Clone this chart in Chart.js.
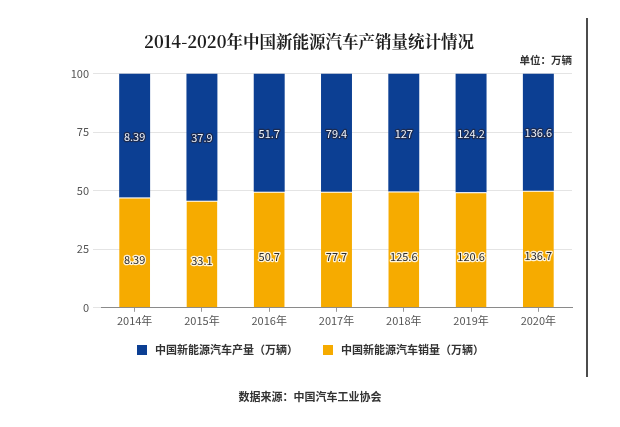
<!DOCTYPE html>
<html>
<head>
<meta charset="utf-8">
<script src="https://cdn.jsdelivr.net/npm/chart.js@4.4.1/dist/chart.umd.min.js"></script>
<style>
    html, body { margin: 0; padding: 0; background: #fff; }
    #wrap { width: 620px; height: 427px; position: relative; }
</style>
</head>
<body>
<div id="wrap"><canvas id="chart"></canvas></div>
<script>
// 年份
const years = ['2014年', '2015年', '2016年', '2017年', '2018年', '2019年', '2020年'];
// 产量、销量（万辆），用作柱上标签
const productionValues = ['8.39', '37.9', '51.7', '79.4', '127', '124.2', '136.6'];
const salesValues = ['8.39', '33.1', '50.7', '77.7', '125.6', '120.6', '136.7'];
// 柱高（百分比，从图上读取）
const productionShare = [52.9, 54.3, 50.5, 50.5, 50.3, 50.7, 50.0];
const salesShare = [47.1, 45.7, 49.5, 49.5, 49.7, 49.3, 50.0];
// 纵轴刻度
const yTicks = [0, 25, 50, 75, 100];

const BLUE = '#0c3f93';
const YELLOW = '#f6ab00';
const CJK = '"Noto Sans CJK SC", "Noto Sans", sans-serif';

/**
 * 标题、柱内数值标签、图例、数据来源、右侧竖线
 */
const decorPlugin = {
    id: 'decor',
    afterDatasetsDraw(chart) {
        const ctx = chart.ctx;
        ctx.save();
        ctx.font = '11px ' + CJK;
        ctx.textAlign = 'center';
        ctx.textBaseline = 'middle';
        ctx.lineJoin = 'round';
        chart.data.datasets.forEach(function(ds, di) {
            const meta = chart.getDatasetMeta(di);
            meta.data.forEach(function(bar, i) {
                const mid = (bar.y + bar.base) / 2;
                const text = ds.valueLabels[i];
                if (ds.isProduction) {
                    const y = mid + 1;
                    ctx.lineWidth = 2.5;
                    ctx.strokeStyle = '#1b2b52';
                    ctx.strokeText(text, bar.x, y);
                    ctx.fillStyle = '#eef3fb';
                    ctx.fillText(text, bar.x, y);
                } else {
                    const y = mid + 7;
                    ctx.lineWidth = 2.5;
                    ctx.strokeStyle = 'rgba(255,255,255,0.85)';
                    ctx.strokeText(text, bar.x, y);
                    ctx.fillStyle = '#2b2b2b';
                    ctx.fillText(text, bar.x, y);
                }
            });
        });
        ctx.restore();
    },
    afterDraw(chart) {
        const ctx = chart.ctx;
        ctx.save();

        // 标题
        ctx.font = 'bold 16.5px "Noto Serif CJK SC", "Noto Sans CJK SC", serif';
        ctx.textAlign = 'center';
        ctx.textBaseline = 'middle';
        ctx.fillStyle = '#1e1e1e';
        ctx.fillText('2014-2020年中国新能源汽车产销量统计情况', 309, 42);

        // 图例
        const items = [chart.data.datasets[1], chart.data.datasets[0]];
        ctx.font = 'bold 11px ' + CJK;
        ctx.textAlign = 'left';
        let x = 137;
        const ly = 350;
        items.forEach(function(ds) {
            ctx.fillStyle = ds.backgroundColor;
            ctx.fillRect(x, ly - 5, 10, 10);
            ctx.fillStyle = '#333';
            ctx.fillText(ds.label, x + 18, ly);
            x += 18 + ctx.measureText(ds.label).width + 25;
        });

        // 数据来源
        ctx.font = 'bold 11px ' + CJK;
        ctx.textAlign = 'center';
        ctx.fillStyle = '#333';
        ctx.fillText('数据来源：中国汽车工业协会', 310, 397);

        // 右侧竖线
        ctx.strokeStyle = '#111';
        ctx.lineWidth = 1.5;
        ctx.beginPath();
        ctx.moveTo(587, 18);
        ctx.lineTo(587, 377);
        ctx.stroke();

        ctx.restore();
    }
};

new Chart(document.getElementById('chart'), {
    type: 'bar',
    data: {
        labels: years,
        datasets: [
            {
                label: '中国新能源汽车销量（万辆）',
                data: salesShare,
                valueLabels: salesValues,
                isProduction: false,
                backgroundColor: YELLOW,
                borderColor: '#ffffff',
                borderWidth: { top: 1, bottom: 0, left: 0, right: 0 },
                borderSkipped: 'bottom',
                categoryPercentage: 1,
                barPercentage: 0.46
            },
            {
                label: '中国新能源汽车产量（万辆）',
                data: productionShare,
                valueLabels: productionValues,
                isProduction: true,
                backgroundColor: BLUE,
                borderWidth: 0,
                categoryPercentage: 1,
                barPercentage: 0.46
            }
        ]
    },
    options: {
        responsive: true,
        maintainAspectRatio: false,
        animation: false,
        devicePixelRatio: 1,
        layout: {
            padding: { top: 54, right: 48, bottom: 98, left: 0 }
        },
        plugins: {
            legend: { display: false },
            tooltip: { enabled: false },
            title: { display: false },
            subtitle: {
                display: true,
                text: '单位：万辆',
                align: 'end',
                color: '#333',
                font: { family: CJK, size: 10.5, weight: 'bold' },
                padding: { top: 0, bottom: 7 }
            }
        },
        scales: {
            x: {
                stacked: true,
                grid: {
                    display: true,
                    drawOnChartArea: false,
                    drawTicks: true,
                    offset: false,
                    tickLength: 4,
                    color: '#999'
                },
                border: { color: '#8a8a8a', width: 1 },
                ticks: {
                    color: '#555',
                    font: { family: CJK, size: 11 },
                    padding: 2
                }
            },
            y: {
                stacked: true,
                min: 0,
                max: 100,
                afterBuildTicks: function(scale) {
                    scale.ticks = yTicks.map(function(v) { return { value: v }; });
                },
                afterFit: function(scale) {
                    scale.width = 101;
                },
                grid: {
                    color: '#e4e4e4',
                    tickLength: 8
                },
                border: { display: false },
                ticks: {
                    color: '#555',
                    font: { family: CJK, size: 11 },
                    padding: 4
                }
            }
        }
    },
    plugins: [decorPlugin]
});
</script>
</body>
</html>
